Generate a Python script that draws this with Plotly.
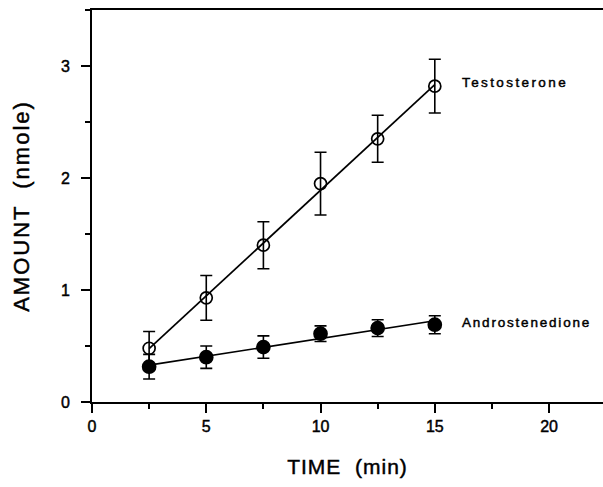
import numpy as np
import plotly.graph_objects as go

time_min = [2.5, 5, 7.5, 10, 12.5, 15]
testosterone = [0.48, 0.93, 1.40, 1.95, 2.35, 2.82]
testosterone_err = [0.15, 0.20, 0.21, 0.28, 0.21, 0.24]
androstenedione = [0.315, 0.40, 0.49, 0.61, 0.66, 0.69]
androstenedione_err = [0.11, 0.10, 0.10, 0.07, 0.075, 0.08]
x_ticks = [0, 5, 10, 15, 20]
y_ticks = [0, 1, 2, 3]

FONT = "Liberation Sans, Arial, Helvetica, sans-serif"
BLACK = "#000000"
HEAVY = "stroke:#000;stroke-width:0.45px;"


def styled(text, spacing=0.0):
    return f'<span style="{HEAVY}letter-spacing:{spacing}px">{text}</span>'


fig = go.Figure()


def fit_line(xs, ys):
    slope, intercept = np.polyfit(xs, ys, 1)
    xf = np.array([min(xs), max(xs)])
    return xf, slope * xf + intercept


for ys, errs, name, filled in [
    (testosterone, testosterone_err, "Testosterone", False),
    (androstenedione, androstenedione_err, "Androstenedione", True),
]:
    xf, yf = fit_line(time_min, ys)
    fig.add_trace(go.Scatter(x=xf, y=yf, mode="lines",
                             line=dict(color=BLACK, width=1.7),
                             showlegend=False, hoverinfo="skip"))
    fig.add_trace(go.Scatter(
        x=time_min, y=ys, mode="markers", name=name, showlegend=False,
        marker=dict(symbol="circle" if filled else "circle-open",
                    size=13 if filled else 12, color=BLACK,
                    line=dict(color=BLACK, width=1.7)),
        error_y=dict(type="data", array=errs, visible=True,
                     color=BLACK, thickness=1.6, width=6),
    ))

fig.add_annotation(x=16.1, y=2.85, xref="x", yref="y", xanchor="left",
                   text=styled("Testosterone", 2.4),
                   showarrow=False, font=dict(family=FONT, size=13.5, color=BLACK))
fig.add_annotation(x=16.1, y=0.71, xref="x", yref="y", xanchor="left",
                   text=styled("Androstenedione", 1.8),
                   showarrow=False, font=dict(family=FONT, size=13.5, color=BLACK))

fig.update_layout(
    width=603, height=487,
    margin=dict(l=92, r=0, t=10, b=85),
    paper_bgcolor="white", plot_bgcolor="white",
    font=dict(family=FONT, color=BLACK),
    showlegend=False,
)
fig.update_xaxes(
    range=[0, 22.36], tickvals=x_ticks, ticktext=[styled(str(v)) for v in x_ticks],
    showgrid=False, zeroline=False, showline=True, linecolor=BLACK, linewidth=2,
    mirror=True,
    ticks="outside", ticklen=9, tickwidth=1.5, tickcolor=BLACK,
    tickfont=dict(family=FONT, size=16, color=BLACK),
    minor=dict(dtick=2.5, tick0=0, ticks="outside", ticklen=5, tickwidth=1.5, tickcolor=BLACK),
    title=dict(text=styled("TIME  (min)", 1),
               font=dict(family=FONT, size=21, color=BLACK), standoff=25),
)
fig.update_yaxes(
    range=[0, 3.5], tickvals=y_ticks, ticktext=[styled(str(v)) for v in y_ticks],
    showgrid=False, zeroline=False, showline=True, linecolor=BLACK, linewidth=2,
    ticks="outside", ticklen=9, tickwidth=1.5, tickcolor=BLACK,
    ticklabelstandoff=8,
    tickfont=dict(family=FONT, size=16, color=BLACK),
    minor=dict(dtick=0.5, tick0=0, ticks="outside", ticklen=5, tickwidth=1.5, tickcolor=BLACK),
    title=dict(text=styled("AMOUNT  (nmole)", 2),
               font=dict(family=FONT, size=22, color=BLACK), standoff=25),
)

fig.write_html("out.html")
